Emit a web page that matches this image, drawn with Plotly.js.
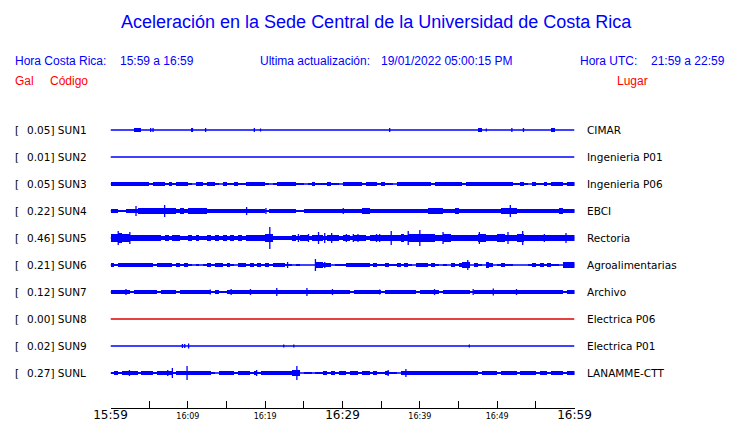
<!DOCTYPE html>
<html><head><meta charset="utf-8">
<script src="https://cdn.plot.ly/plotly-3.0.1.min.js"></script>
<style>html,body{margin:0;padding:0;background:#fff}</style>
</head><body><div id="chart" style="width:740px;height:423px"></div>
<script>
// ---- data ----
const stations = ["SUN1","SUN2","SUN3","SUN4","SUN5","SUN6","SUN7","SUN8","SUN9","SUNL"];
const peakGal  = ["0.05","0.01","0.05","0.22","0.46","0.21","0.12","0.00","0.02","0.27"];
const places   = ["CIMAR","Ingenieria P01","Ingenieria P06","EBCI","Rectoria","Agroalimentarias","Archivo","Electrica P06","Electrica P01","LANAMME-CTT"];

// envelope (half amplitude, relative units) in half-minute bins, 120 bins per hour
const envSUN1 = "0000002200 0000000000 0000000000 0000000000 0000000000 0000000000 0000000000 0000000000 0000000000 0000020000 0000000000 0000200000";
const envSUN2 = "0000000000 0000000000 0000000000 0000000000 0000000000 0000000000 0000000000 0000000000 0000000000 0000000000 0000000000 0000000000";
const envSUN3 = "2222222222 1222121222 1022122102 1121122222 1012222211 0121112110 2222212221 2110222222 2221222222 2122222222 2222112102 1121222122";
const envSUN4 = "2211222333 3333333232 3333322222 2222222222 1222222211 2222222222 2222233222 2222222222 2233332223 2222222222 2333322222 2222223222";
const envSUN5 = "5565543333 4332323322 3232232323 2323233344 5522222323 3233323332 3323332333 3344454555 5555445544 4334455444 5544455433 3334333444";
const envSUN6 = "2122222222 2122221212 1010121221 2102212121 2122211010 0003322011 1222222121 1211212102 2212101021 2330210320 1211000012 1212110333";
const envSUN7 = "2222212222 2212222122 2222221211 2222222222 2222222222 2222222222 2212222222 1222222221 2222212222 2221222222 2222222222 2222222122";
const envSUN8 = "0000000000 0000000000 0000000000 0000000000 0000000000 0000000000 0000000000 0000000000 0000000000 0000000000 0000000000 0000000000";
const envSUN9 = "0000000000 0000000000 0000000000 0000000000 0000000000 0000000000 0000000000 0000000000 0000000000 0000000000 0000000000 0000000000";
const envSUNL = "1212222122 2122221222 2222221022 2212221212 2222222330 1101121212 2122122121 1211022222 2222222222 2222212222 1222212222 1221222122";

// isolated peaks: [minute after 15:59, half amplitude]
const spikesSUN1 = [[5.2,2],[5.5,2],[10.5,2],[10.6,2],[12.3,2],[18.6,2],[19.4,1.5],[36.1,2],[48.6,1.5],[51.9,2],[53.4,2]];
const spikesSUN2 = [];
const spikesSUN3 = [];
const spikesSUN4 = [[3.3,5],[7.0,6],[17.6,4],[20.1,3],[30.1,3],[51.7,6]];
const spikesSUN5 = [[1.0,7],[2.5,6],[20.6,11],[24.3,4],[25.6,4],[26.9,6],[27.7,5],[28.6,5],[30.5,4],[31.4,4],[32.0,4],[34.4,4],[34.8,4],[36.3,7],[38.5,7],[40.0,8],[43.0,6],[47.7,6],[51.4,6],[53.3,7],[56.1,4],[58.9,5]];
const spikesSUN6 = [[22.9,3],[26.5,6],[27.7,3],[46.2,5]];
const spikesSUN7 = [[2.0,3],[12.9,2.5],[15.6,3],[18.1,3],[21.5,4],[25.4,4],[28.7,3],[34.8,2.5],[41.9,3],[46.9,3],[49.5,3.5],[52.5,3]];
const spikesSUN8 = [];
const spikesSUN9 = [[9.3,2],[9.6,2],[10.1,2.5],[22.4,1.5],[23.7,1.5],[46.4,1.5]];
const spikesSUNL = [[2.45,3],[7.4,3],[8.0,5],[9.9,7],[18.9,3],[24.1,7],[35.9,3],[38.2,4]];

const tickMinutes = [0,5,10,15,20,25,30,35,40,45,50,55,60];
const tickLabels  = ["15:59","","16:09","","16:19","","16:29","","16:39","","16:49","","16:59"];
const majorTicks  = ["15:59","16:29","16:59"];

// ---- styling / layout constants ----
const W = 740, H = 423;
const ROW0 = 130, ROWSTEP = 27;           // px
const ENV_PX = 0.85;                        // px per envelope unit
const BLUE = "#0000ff", RED = "#e00000";
const PAD = 2;                              // annotation inner padding compensation
const traceColors = stations.map(s => s === "SUN8" ? RED : BLUE);

const envs = [envSUN1,envSUN2,envSUN3,envSUN4,envSUN5,envSUN6,envSUN7,envSUN8,envSUN9,envSUNL]
  .map(s => s.replace(/\s+/g,'').split('').map(Number));
const spikes = [spikesSUN1,spikesSUN2,spikesSUN3,spikesSUN4,spikesSUN5,spikesSUN6,spikesSUN7,spikesSUN8,spikesSUN9,spikesSUNL];

const data = [];
stations.forEach((st, k) => {
  const col = traceColors[k];
  const env = envs[k];
  const bx = [], by = [], bb = [];
  env.forEach((a, i) => {
    if (a > 0) {
      const h = a * ENV_PX / ROWSTEP;
      bx.push(i * 0.5 + 0.25); by.push(2 * h); bb.push(k - h);
    }
  });
  if (bx.length) data.push({type:'bar', x:bx, y:by, base:bb, width:0.5,
    marker:{color:col, line:{width:0}}, hoverinfo:'skip', showlegend:false});
  // baseline
  data.push({type:'scatter', mode:'lines', x:[0,60], y:[k,k],
    line:{color:col, width:1.4}, hoverinfo:'skip', showlegend:false});
  // spikes
  const sx = [], sy = [];
  spikes[k].forEach(([t,a]) => { const h = a / ROWSTEP; sx.push(t,t,null); sy.push(k-h,k+h,null); });
  if (sx.length) data.push({type:'scatter', mode:'lines', x:sx, y:sy,
    line:{color:col, width:1.3}, hoverinfo:'skip', showlegend:false});
});

const px = x => x / W, py = y => 1 - y / H;
const ann = [];
const txt = (text, x, y, opts) => {
  const o = Object.assign({xanchor:'left'}, opts);
  const dx = o.xanchor === 'left' ? -PAD : (o.xanchor === 'right' ? PAD : 0);
  ann.push(Object.assign({text, x:px(x + dx), y:py(y), xref:'paper', yref:'paper',
    showarrow:false, yanchor:'middle'}, o));
};

const titleFont = {family:'Liberation Sans, Arial, sans-serif', size:18, color:BLUE};
const headFont  = {family:'Liberation Sans, Arial, sans-serif', size:12, color:BLUE};
const redFont   = {family:'Liberation Sans, Arial, sans-serif', size:12, color:'#ff0000'};
const labFont   = {family:'DejaVu Sans, sans-serif', size:10.5, color:'#000'};

txt("Aceleración en la Sede Central de la Universidad de Costa Rica", 376, 22, {xanchor:'center', font:titleFont});
txt("Hora Costa Rica:", 15, 61, {font:headFont});
txt("15:59 a 16:59", 120, 61, {font:headFont});
txt("Ultima actualización:", 260, 61, {font:headFont});
txt("19/01/2022 05:00:15 PM", 381, 61, {font:headFont});
txt("Hora UTC:", 580, 61, {font:headFont});
txt("21:59 a 22:59", 725, 61, {xanchor:'right', font:headFont});
txt("Gal", 15, 81, {font:redFont});
txt("Código", 50, 81, {font:redFont});
txt("Lugar", 648, 81, {xanchor:'right', font:redFont});

stations.forEach((st, k) => {
  const y = ROW0 + k * ROWSTEP;
  txt("[", 15, y, {font:labFont});
  txt(peakGal[k] + "]\u00a0" + st, 27, y, {font:labFont});
  txt(places[k], 587, y, {font:labFont});
});

const ticktext = tickLabels.map(l => majorTicks.includes(l) ? '<span style="font-size:12px">' + l + '</span>' : l);

const layout = {
  width:W, height:H, margin:{l:0,r:0,t:0,b:0}, paper_bgcolor:'#fff', plot_bgcolor:'rgba(0,0,0,0)',
  barmode:'overlay', bargap:0, showlegend:false,
  xaxis:{domain:[110.5/W, 574.5/W], range:[0,60], anchor:'free', position:(H-408)/H,
    showline:true, linecolor:'#000', linewidth:1, ticks:'inside', ticklen:7, tickwidth:1, tickcolor:'#000',
    tickvals:tickMinutes, ticktext:ticktext, tickfont:{family:'DejaVu Sans, sans-serif', size:8, color:'#000'},
    showgrid:false, zeroline:false, fixedrange:true},
  yaxis:{domain:[0,1], range:[(H-ROW0)/ROWSTEP, -ROW0/ROWSTEP], visible:false, showgrid:false, zeroline:false},
  annotations:ann
};
Plotly.newPlot('chart', data, layout, {staticPlot:true, displayModeBar:false});
</script></body></html>
